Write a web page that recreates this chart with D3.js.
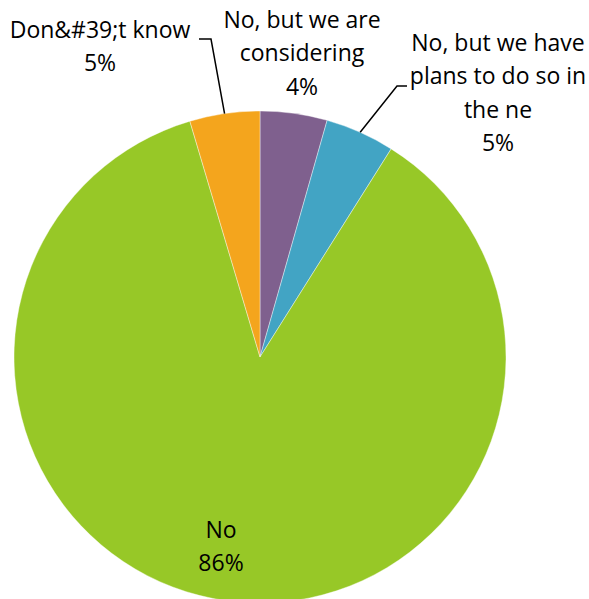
<!DOCTYPE html>
<html>
<head>
<meta charset="utf-8">
<script src="https://cdn.jsdelivr.net/npm/d3@7/dist/d3.min.js"></script>
<style>
  html, body { margin: 0; padding: 0; background: #fff; }
  svg { display: block; }
  text { font-family: "Open Sans", "Liberation Sans", sans-serif; fill: #000; }
</style>
</head>
<body>
<svg id="chart" width="589" height="599"></svg>
<script>
// Survey answers, clockwise from 12 o'clock
const categories = [
  "No, but we are considering",
  "No, but we have plans to do so in the ne",
  "No",
  "Don&#39;t know"
];
const shares = [4.4, 4.55, 86.45, 4.6];
const colors = ["#7f608e", "#42a4c4", "#97c827", "#f4a51d"];

// Label text broken into lines, and the label anchor position
const labelLines = [
  ["No, but we are", "considering"],
  ["No, but we have", "plans to do so in", "the ne"],
  ["No"],
  ["Don&#39;t know"]
];
const labelPos = [[302, 20], [498, 43], [221, 530], [100, 30]];
const lineStep = 33.3;

const svg = d3.select("#chart");
const cx = 260, cy = 357, radius = 246;

const pie = d3.pie().sort(null).value(d => d);
const arc = d3.arc().innerRadius(0).outerRadius(radius);
const arcs = pie(shares);

const g = svg.append("g").attr("transform", `translate(${cx},${cy})`);
g.selectAll("path")
  .data(arcs)
  .join("path")
  .attr("d", arc)
  .attr("fill", (d, i) => colors[i])
  .attr("stroke", "#fff")
  .attr("stroke-width", 0.4);

// Leader lines for the two labels that sit outside the pie
const outer = d3.arc().innerRadius(radius).outerRadius(radius);
function edgePoint(i) {
  const [x, y] = outer.centroid(arcs[i]);
  return [cx + x, cy + y];
}
const leaders = [
  { slice: 1, pts: [[407, 86], [397, 86]] },
  { slice: 3, pts: [[199, 39], [211, 39]] }
];
leaders.forEach(l => {
  const e = edgePoint(l.slice);
  const pts = [...l.pts, e];
  svg.append("path")
    .attr("d", d3.line()(pts))
    .attr("fill", "none")
    .attr("stroke", "#000")
    .attr("stroke-width", 1.5);
});

// Labels: category lines followed by the rounded percentage
const total = d3.sum(shares);
labelLines.forEach((lines, i) => {
  const [x, y] = labelPos[i];
  const all = [...lines, Math.round(shares[i] / total * 100) + "%"];
  const t = svg.append("text")
    .attr("text-anchor", "middle")
    .attr("font-size", 23);
  all.forEach((s, k) => {
    t.append("tspan")
      .attr("x", x)
      .attr("y", y + k * lineStep)
      .attr("dy", "0.35em")
      .text(s);
  });
});
</script>
</body>
</html>
